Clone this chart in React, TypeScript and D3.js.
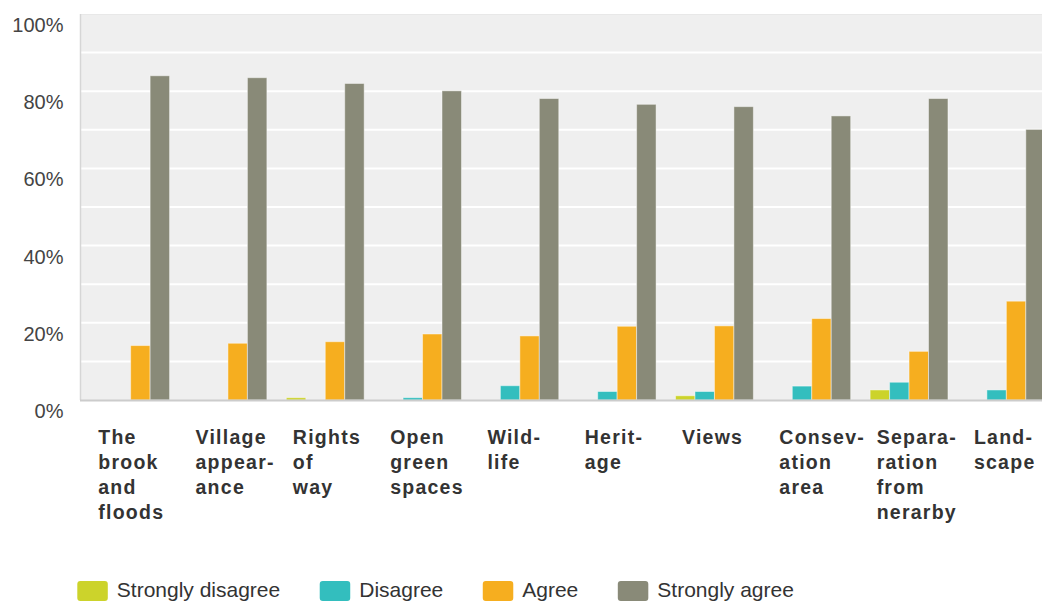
import React from "react";
import * as d3 from "d3";

const categories: string[][] = [
  ["The", "brook", "and", "floods"],
  ["Village", "appear-", "ance"],
  ["Rights", "of", "way"],
  ["Open", "green", "spaces"],
  ["Wild-", "life"],
  ["Herit-", "age"],
  ["Views"],
  ["Consev-", "ation", "area"],
  ["Separa-", "ration", "from", "nerarby"],
  ["Land-", "scape"],
];

const seriesNames = ["Strongly disagree", "Disagree", "Agree", "Strongly agree"];
const seriesColors = ["#ccd32b", "#33bebe", "#f6ae1f", "#898a78"];

const stronglyDisagree = [0, 0, 0.6, 0, 0, 0, 1.1, 0, 2.6, 0];
const disagree = [0, 0, 0, 0.6, 3.7, 2.2, 2.2, 3.6, 4.6, 2.6];
const agree = [14.1, 14.7, 15.1, 17.1, 16.6, 19.1, 19.2, 21.1, 12.6, 25.6];
const stronglyAgree = [84.0, 83.5, 82.0, 80.1, 78.1, 76.6, 76.0, 73.6, 78.1, 70.1];

const yTicks = [0, 20, 40, 60, 80, 100];
const gridValues = [10, 20, 30, 40, 50, 60, 70, 80, 90];

const W = 1042;
const H = 602;
const FONT = "'Liberation Sans', Arial, sans-serif";

function measure(text: string, font: string): number {
  const c = document.createElement("canvas");
  const ctx = c.getContext("2d")!;
  ctx.font = font;
  return ctx.measureText(text).width;
}

export default function App() {
  const seriesData = [stronglyDisagree, disagree, agree, stronglyAgree];
  const catKeys = categories.map((c) => c.join(" "));

  const plotLeft = 80;
  const plotTop = 14;
  const plotBottom = 400;
  const plotRight = 1055;

  const x0 = d3
    .scaleBand<string>()
    .domain(catKeys)
    .range([82, plotRight])
    .paddingInner(0.2)
    .paddingOuter(0.1);
  const x1 = d3
    .scaleBand<string>()
    .domain(seriesNames)
    .range([0, x0.bandwidth()])
    .padding(0);
  const y = d3.scaleLinear().domain([0, 100]).range([plotBottom, plotTop]);

  // legend layout
  const legendFont = `21px ${FONT}`;
  let lx = 77.3;
  const legendItems = seriesNames.map((name, i) => {
    const item = { name, color: seriesColors[i], x: lx };
    lx += 30 + 9 + measure(name, legendFont) + 40;
    return item;
  });

  return (
    <svg
      width={W}
      height={H}
      style={{ position: "absolute", left: 0, top: 0, background: "#fff" }}
      fontFamily={FONT}
    >
      <rect
        x={plotLeft}
        y={plotTop}
        width={plotRight - plotLeft}
        height={plotBottom - plotTop}
        fill="#efefef"
      />
      <line x1={plotLeft} x2={plotRight} y1={plotTop + 0.5} y2={plotTop + 0.5} stroke="#e8e8e8" strokeWidth={1} />
      {gridValues.map((v) => (
        <line
          key={v}
          x1={plotLeft}
          x2={plotRight}
          y1={y(v)}
          y2={y(v)}
          stroke="#ffffff"
          strokeWidth={2}
        />
      ))}
      <line x1={plotLeft + 0.5} x2={plotLeft + 0.5} y1={plotTop} y2={plotBottom} stroke="#d6d6d6" strokeWidth={1.5} />
      {yTicks.map((t) => (
        <text
          key={t}
          x={63.5}
          y={y(t) + 18}
          textAnchor="end"
          fontSize={20}
          fill="#444"
        >
          {t}%
        </text>
      ))}
      {catKeys.map((ck, ci) => (
        <g key={ck} transform={`translate(${x0(ck)},0)`}>
          {seriesNames.map((s, si) => {
            const v = seriesData[si][ci];
            if (v <= 0) return null;
            return (
              <rect
                key={s}
                x={x1(s)}
                y={y(v)}
                width={x1.bandwidth()}
                height={y(0) - y(v)}
                fill={seriesColors[si]}
                stroke="rgba(255,255,255,0.45)"
                strokeWidth={1}
              />
            );
          })}
          <text
            x={6.5}
            y={444}
            fontSize={19.5}
            fontWeight="bold"
            fill="#333"
            letterSpacing={1.25}
          >
            {categories[ci].map((line, li) => (
              <tspan key={li} x={6.5} dy={li === 0 ? 0 : 25}>
                {line}
              </tspan>
            ))}
          </text>
        </g>
      ))}
      <line x1={plotLeft} x2={plotRight} y1={plotBottom + 0.5} y2={plotBottom + 0.5} stroke="#cccccc" strokeWidth={2} />
      {legendItems.map((it) => (
        <g key={it.name}>
          <rect x={it.x} y={581} width={30.5} height={20} rx={3} fill={it.color} />
          <text x={it.x + 39.5} y={597} fontSize={21} fill="#333">
            {it.name}
          </text>
        </g>
      ))}
    </svg>
  );
}
